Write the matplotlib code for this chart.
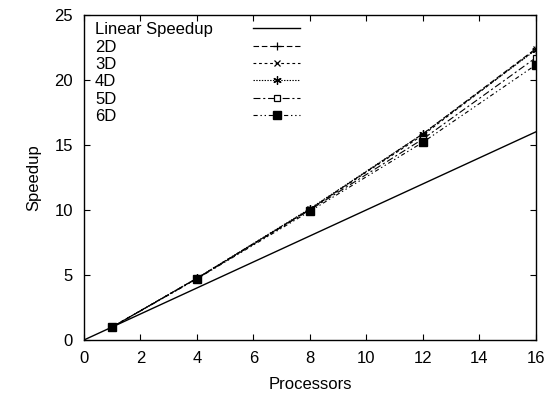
import matplotlib
matplotlib.use('Agg')
import matplotlib.pyplot as plt

plt.rcParams['font.family'] = ['Liberation Sans', 'DejaVu Sans']
plt.rcParams['font.size'] = 12
plt.rcParams['lines.scale_dashes'] = False

# data
procs = [1, 4, 8, 12, 16]
linear_x = [0, 16]
linear_y = [0, 16]
speedup_2d = [1.0, 4.75, 10.05, 15.85, 22.4]
speedup_3d = [1.0, 4.75, 10.05, 15.75, 22.35]
speedup_4d = [1.0, 4.75, 10.1, 15.85, 22.3]
speedup_5d = [1.0, 4.72, 10.0, 15.45, 21.7]
speedup_6d = [1.0, 4.7, 9.9, 15.2, 21.15]

fig = plt.figure(figsize=(5.54, 3.94), dpi=100)
ax = fig.add_axes([0.1516, 0.1371, 0.8159, 0.8256])

lw = 0.8
ax.plot(linear_x, linear_y, color='black', lw=1.0, label='Linear Speedup')
ax.plot(procs, speedup_2d, color='black', lw=lw, dashes=(4, 2),
        marker='+', ms=6, mew=0.9, label='2D')
ax.plot(procs, speedup_3d, color='black', lw=lw, dashes=(2, 2),
        marker='x', ms=5, mew=0.9, label='3D')
ax.plot(procs, speedup_4d, color='black', lw=lw, dashes=(1, 1),
        marker=(6, 2, 0), ms=6, mew=0.9, label='4D')
ax.plot(procs, speedup_5d, color='black', lw=lw, dashes=(5, 2, 1.5, 2),
        marker='s', ms=5, mfc='white', mec='black', mew=0.9, label='5D')
ax.plot(procs, speedup_6d, color='black', lw=lw, dashes=(3, 2, 1, 2, 1, 2),
        marker='s', ms=5.5, mfc='black', mec='black', label='6D')

ax.set_xlim(0, 16)
ax.set_ylim(0, 25)
ax.set_xticks(range(0, 17, 2))
ax.set_yticks(range(0, 26, 5))
ax.tick_params(direction='in', top=True, right=True, length=4, width=0.8)
ax.tick_params(axis='x', pad=8)
ax.tick_params(axis='y', pad=8)
for s in ax.spines.values():
    s.set_linewidth(1.0)

ax.set_xlabel('Processors', labelpad=8)
ax.set_ylabel('Speedup', labelpad=9)

# gnuplot style key: text on the left, sample on the right
leg = ax.legend(loc='upper left', bbox_to_anchor=(0.0243, 0.977),
                markerfirst=False, frameon=False, handlelength=2.8,
                borderaxespad=0, borderpad=0, labelspacing=0.14,
                handletextpad=0.5)
for col in leg._legend_handle_box.get_children():
    col.align = 'left'
    for item in col.get_children():
        item.mode = 'expand'
        item.width = 205

fig.savefig('out.png', dpi=100)
